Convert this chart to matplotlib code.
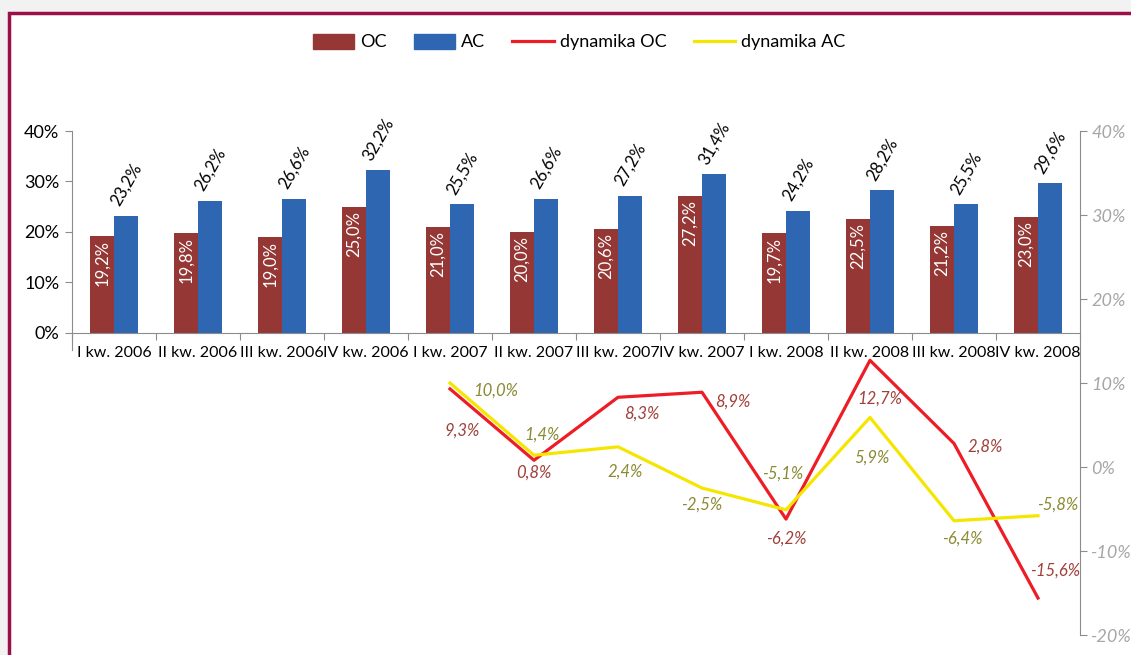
import matplotlib
matplotlib.use("Agg")
import matplotlib.pyplot as plt
from matplotlib.patches import Rectangle
from matplotlib.lines import Line2D
from matplotlib.ticker import FuncFormatter

plt.rcParams["font.family"] = ["Lato", "DejaVu Sans"]

quarters = ["I kw. 2006", "II kw. 2006", "III kw. 2006", "IV kw. 2006",
            "I kw. 2007", "II kw. 2007", "III kw. 2007", "IV kw. 2007",
            "I kw. 2008", "II kw. 2008", "III kw. 2008", "IV kw. 2008"]
oc = [19.2, 19.8, 19.0, 25.0, 21.0, 20.0, 20.6, 27.2, 19.7, 22.5, 21.2, 23.0]
ac = [23.2, 26.2, 26.6, 32.2, 25.5, 26.6, 27.2, 31.4, 24.2, 28.2, 25.5, 29.6]
# dynamics start at I kw. 2007
dyn_start = 4
dyn_oc = [9.3, 0.8, 8.3, 8.9, -6.2, 12.7, 2.8, -15.6]
dyn_ac = [10.0, 1.4, 2.4, -2.5, -5.1, 5.9, -6.4, -5.8]

# label offsets in pixels (dx, dy downwards)
off_oc = [(12, 42), (0, 12), (24, 16), (31, 9), (0, 20), (10, 38), (31, 3), (17, -27)]
off_ac = [(46, 8), (8, -21), (7, 25), (0, 17), (-3, -36), (2, 40), (8, 18), (20, -11)]

C_OC = "#953735"
C_AC = "#2E66B1"
C_ROC = "#EE1C25"
C_YAC = "#F5E600"
C_LBL_OC = "#A0403A"
C_LBL_AC = "#8A8A32"
GRAY = "#8C8C8C"

PX = 72 / 100  # pixel -> points at dpi 100


def pct(v):
    return f"{v:.1f}%".replace(".", ",")


fig = plt.figure(figsize=(11.31, 6.55), dpi=100, facecolor="#F2F2F2")
fig.patches.append(Rectangle((9 / 1131, -0.1), 1.2, 1 - 13 / 655 + 0.1,
                             transform=fig.transFigure, facecolor="white",
                             edgecolor="#9A1048", linewidth=2.5, zorder=-5))

ax = fig.add_axes([72 / 1131, 1 - 635 / 655, (1080 - 72) / 1131, (635 - 131) / 655])
ax.set_facecolor("none")

x = list(range(len(quarters)))
w = 0.29
ax.bar([i - w / 2 for i in x], [v / 100 for v in oc], w, color=C_OC, label="OC")
ax.bar([i + w / 2 for i in x], [v / 100 for v in ac], w, color=C_AC, label="AC")

for i, v in enumerate(oc):
    ax.annotate(pct(v), (i - w / 2, v / 100), xytext=(0, -4 * PX), textcoords="offset points",
                ha="center", va="top", rotation=90, color="white", fontsize=12)
for i, v in enumerate(ac):
    ax.annotate(pct(v), (i + w / 2, v / 100), xytext=(0, 31 * PX), textcoords="offset points",
                ha="center", va="center", rotation=60, color="black", fontsize=12)

ax.set_xlim(-0.5, len(quarters) - 0.5)
ax.set_ylim(-0.6, 0.4)
ax.set_yticks([0, 0.1, 0.2, 0.3, 0.4])
ax.yaxis.set_major_formatter(FuncFormatter(lambda v, p: f"{v * 100:.0f}%"))
ax.tick_params(axis="y", labelsize=13, color=GRAY, length=5, pad=4)

ax.set_xticks([i - 0.5 for i in range(len(quarters) + 1)])
ax.set_xticklabels([])
ax.set_xticks(x, minor=True)
ax.set_xticklabels(quarters, minor=True)
ax.tick_params(axis="x", which="major", color=GRAY, length=5, direction="out")
ax.tick_params(axis="x", which="minor", length=0, labelsize=11.5, pad=10)

for s in ["top", "right"]:
    ax.spines[s].set_visible(False)
ax.spines["bottom"].set_position(("data", 0))
ax.spines["bottom"].set_color(GRAY)
ax.spines["left"].set_color(GRAY)
ax.spines["left"].set_bounds(-0.035, 0.4)

ax2 = ax.twinx()
ax2.set_ylim(-0.2, 0.4)
ax2.set_yticks([-0.2, -0.1, 0, 0.1, 0.2, 0.3, 0.4])
ax2.yaxis.set_major_formatter(FuncFormatter(lambda v, p: f"{v * 100:.0f}%"))
ax2.tick_params(axis="y", labelsize=13, color=GRAY, labelcolor="#A6A6A6", length=5, pad=3)
for t in ax2.get_yticklabels():
    t.set_fontstyle("italic")
for s in ["top", "left", "bottom"]:
    ax2.spines[s].set_visible(False)
ax2.spines["right"].set_color(GRAY)

xd = [dyn_start + i for i in range(len(dyn_oc))]
ax2.plot(xd, [v / 100 for v in dyn_oc], color=C_ROC, lw=2.3, label="dynamika OC")
ax2.plot(xd, [v / 100 for v in dyn_ac], color=C_YAC, lw=2.3, label="dynamika AC")

for xi, v, (dx, dy) in zip(xd, dyn_oc, off_oc):
    ax2.annotate(pct(v), (xi, v / 100), xytext=(dx * PX, -dy * PX), textcoords="offset points",
                 ha="center", va="center", color=C_LBL_OC, fontsize=12, style="italic")
for xi, v, (dx, dy) in zip(xd, dyn_ac, off_ac):
    ax2.annotate(pct(v), (xi, v / 100), xytext=(dx * PX, -dy * PX), textcoords="offset points",
                 ha="center", va="center", color=C_LBL_AC, fontsize=12, style="italic")

handles = [Rectangle((0, 0), 1, 1, color=C_OC), Rectangle((0, 0), 1, 1, color=C_AC),
           Line2D([], [], color=C_ROC, lw=2.3), Line2D([], [], color=C_YAC, lw=2.3)]
fig.legend(handles, ["OC", "AC", "dynamika OC", "dynamika AC"], loc="center",
           bbox_to_anchor=(579 / 1131, 1 - 42 / 655), ncol=4, frameon=False,
           fontsize=13, handlelength=2.3, handleheight=0.9, columnspacing=1.5,
           handletextpad=0.33)

fig.savefig("out.png", dpi=100, facecolor=fig.get_facecolor())
